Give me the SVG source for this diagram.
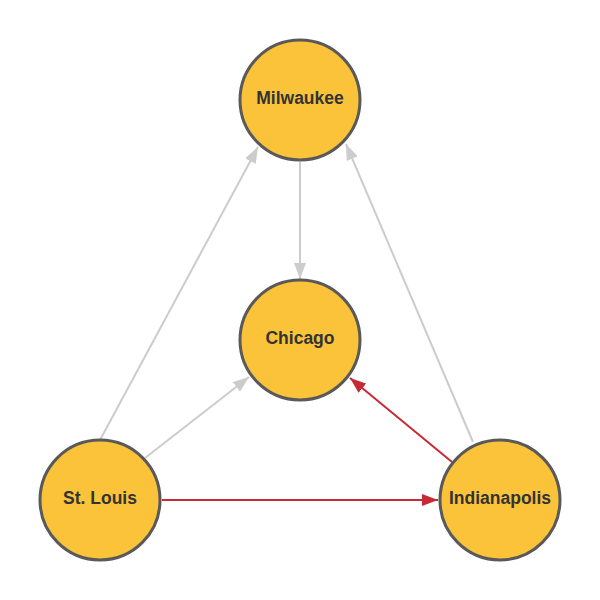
<svg xmlns="http://www.w3.org/2000/svg" width="600" height="600" viewBox="0 0 600 600">
<style>
.node circle{fill:#fbc33a;stroke:#595959;stroke-width:3}
.node text{font-family:"Liberation Sans",Arial,sans-serif;font-weight:bold;font-size:17.5px;fill:#333;text-anchor:middle;dominant-baseline:central}
.e{fill:none;stroke-width:2}
.g{stroke:#cccccc}
.r{stroke:#c62a36}
</style>
<defs>
<marker id="ag" markerUnits="userSpaceOnUse" markerWidth="16" markerHeight="12" refX="16" refY="6" orient="auto" viewBox="0 0 16 12"><path d="M0,0 L16,6 L0,12 Z" fill="#cccccc"/></marker>
<marker id="ar" markerUnits="userSpaceOnUse" markerWidth="16" markerHeight="12" refX="16" refY="6" orient="auto" viewBox="0 0 16 12"><path d="M0,0 L16,6 L0,12 Z" fill="#c62a36"/></marker>
</defs>
<rect width="600" height="600" fill="#fff"/>
<g id="edges">
<line class="e g" x1="100" y1="440" x2="258" y2="147" marker-end="url(#ag)"/>
<line class="e g" x1="300" y1="162" x2="300" y2="279" marker-end="url(#ag)"/>
<line class="e g" x1="145" y1="458" x2="249" y2="377" marker-end="url(#ag)"/>
<line class="e g" x1="473" y1="442" x2="346" y2="144" marker-end="url(#ag)"/>
<line class="e r" x1="162" y1="500" x2="438" y2="500" marker-end="url(#ar)"/>
<line class="e r" x1="452" y1="462" x2="350" y2="378" marker-end="url(#ar)"/>
</g>
<g id="milwaukee" class="node"><circle cx="300" cy="100" r="60"/><text x="300" y="98">Milwaukee</text></g>
<g id="chicago" class="node"><circle cx="300" cy="340" r="60"/><text x="300" y="338">Chicago</text></g>
<g id="stlouis" class="node"><circle cx="100" cy="500" r="60"/><text x="100" y="498">St. Louis</text></g>
<g id="indianapolis" class="node"><circle cx="500" cy="500" r="60"/><text x="500" y="498">Indianapolis</text></g>
</svg>
